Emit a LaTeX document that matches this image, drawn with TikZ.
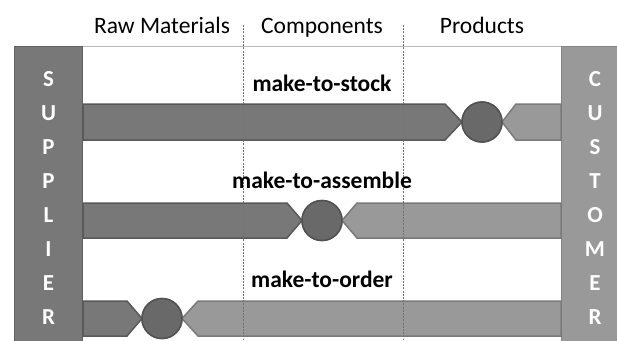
\documentclass[tikz,border=0pt]{standalone}
\usepackage{fontspec}
\setmainfont{Carlito}
\begin{document}
\begin{tikzpicture}[x=1bp,y=-1bp,
  txt/.style={font=\fontsize{23.6}{26}\selectfont, anchor=base, inner sep=0pt},
  lbl/.style={font=\fontsize{23.6}{26}\selectfont\bfseries, anchor=base, inner sep=0pt, text=black},
  letter/.style={font=\fontsize{23}{26}\selectfont\bfseries, anchor=base, inner sep=0pt, text=white},
  leftbar/.style={fill=gray!100!white, fill=black!53, draw=black!65, line width=1.5bp, line join=miter},
  rightbar/.style={fill=black!40, draw=black!52, line width=1.5bp},
  hub/.style={circle, fill=black!59, draw=black!68, line width=1.5bp, minimum size=40bp, inner sep=0pt},
  divider/.style={draw=black!55, line width=0.5bp, dash pattern=on 2bp off 1.2bp}
]
\useasboundingbox (0,0) rectangle (617,340);
\fill[white] (0,0) rectangle (617,340);
% top line
\coordinate (tl) at (83,46.5);
\coordinate (tr) at (561,46.5);
\draw[black!27, line width=1.5bp] (tl) -- (tr);
% headers
\node[txt] (h1) at (162,33) {Raw Materials};
\node[txt] (h2) at (322,33) {Components};
\node[txt] (h3) at (482,33) {Products};
% side boxes
\draw[fill=black!53, draw=black!62, line width=1.5bp] (14.5,46.5) rectangle (82.5,345);
\draw[fill=black!40, draw=black!48, line width=1.5bp] (561.5,46.5) rectangle (640,345);
\path (14.5,46.5) coordinate (supTL) (82.5,345) coordinate (supBR);
% row 1
\node[hub] (c1) at (482,122) {};
\draw[leftbar] (83,104) -- (445,104) -- (462,122) -- (445,140) -- (83,140) -- cycle;
\draw[rightbar] (561,104) -- (516,104) -- (502,122) -- (516,140) -- (561,140) -- cycle;
\node[hub] at (c1) {};
% row 2
\node[hub] (c2) at (322,220.5) {};
\draw[leftbar] (83,203) -- (287,203) -- (302,220.5) -- (287,238) -- (83,238) -- cycle;
\draw[rightbar] (561,203) -- (357,203) -- (342,220.5) -- (357,238) -- (561,238) -- cycle;
\node[hub] at (c2) {};
% row 3
\node[hub] (c3) at (162,318.5) {};
\draw[leftbar] (83,301) -- (127,301) -- (142,318.5) -- (127,336) -- (83,336) -- cycle;
\draw[rightbar] (561,301) -- (198,301) -- (182,318.5) -- (198,336) -- (561,336) -- cycle;
\node[hub] at (c3) {};
% dividers
\coordinate (d1t) at (243,25); \coordinate (d1b) at (243,340);
\coordinate (d2t) at (403,25); \coordinate (d2b) at (403,340);
\draw[divider] (d1t) -- (d1b);
\draw[divider] (d2t) -- (d2b);
% row labels
\node[lbl] (l1) at (322,91.5) {make-to-stock};
\node[lbl] (l2) at (322,188) {make-to-assemble};
\node[lbl] (l3) at (322,287) {make-to-order};
% letters
\foreach \ch [count=\i from 0] in {S,U,P,P,L,I,E,R}
  \node[letter] (s\i) at (48.5,86+34.1*\i) {\ch};
\foreach \ch [count=\i from 0] in {C,U,S,T,O,M,E,R}
  \node[letter] (k\i) at (595,86+34.1*\i) {\ch};
\end{tikzpicture}
\end{document}
